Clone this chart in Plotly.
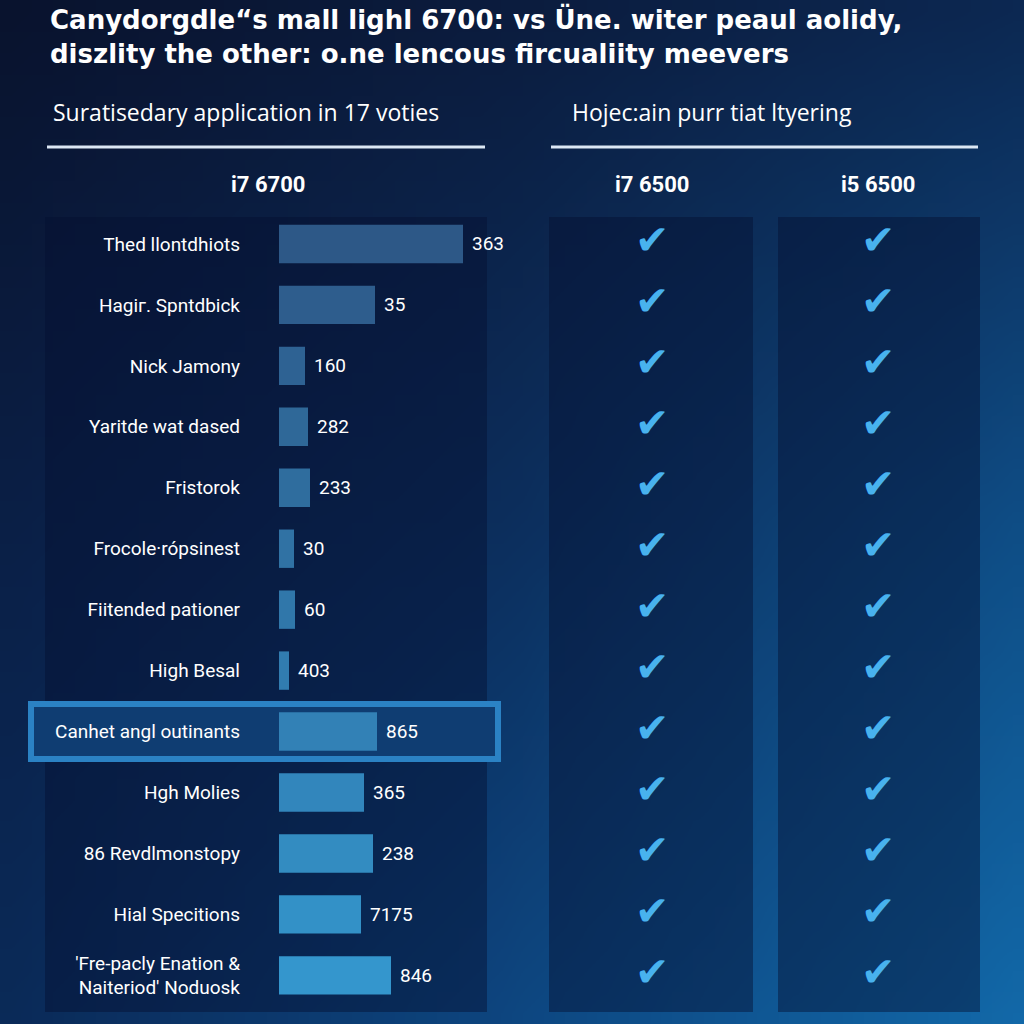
import zlib, struct, base64
import plotly.graph_objects as go

# ---------------- data ----------------
title_lines = [
    "Canydorgdle\u201cs mall lighl 6700: vs Üne. witer peaul aolidy,",
    "diszlity the other: o.ne lencous fircualiity meevers",
]
left_subtitle = "Suratisedary application in 17 voties"
right_subtitle = "Hojec:ain purr tiat ltyering"
bar_header = "i7 6700"
check_headers = ["i7 6500", "i5 6500"]

categories = [
    "Thed llontdhiots",
    "Hagi\u0433. Spntdbick",
    "Nick Jamony",
    "Yaritde wat dased",
    "Fristorok",
    "Frocole\u00b7r\u00f3psinest",
    "Fiitended pationer",
    "High Besal",
    "Canhet angl outinants",
    "Hgh Molies",
    "86 Revdlmonstopy",
    "Hial Specitions",
    "'Fre-pacly Enation &<br>Naiteriod' Noduosk",
]
# bar lengths as drawn (estimated), and the value labels printed beside them
bar_lengths = [184, 96, 26, 29, 31, 15, 16, 10, 98, 85, 94, 82, 112]
value_labels = ["363", "35", "160", "282", "233", "30", "60", "403",
                "865", "365", "238", "7175", "846"]
i7_6500_support = [True] * 13
i5_6500_support = [True] * 13
highlight_row = 8

# ---------------- helpers ----------------
W = H = 1024
def px(x):
    return x / W
def py(y):
    return 1 - y / H

def make_png(w, h, pix):
    raw = b"".join(b"\x00" + bytes(v for p in row for v in p) for row in pix)
    def chunk(t, d):
        return struct.pack(">I", len(d)) + t + d + struct.pack(">I", zlib.crc32(t + d) & 0xffffffff)
    png = (b"\x89PNG\r\n\x1a\n"
           + chunk(b"IHDR", struct.pack(">IIBBBBB", w, h, 8, 2, 0, 0, 0))
           + chunk(b"IDAT", zlib.compress(raw, 9))
           + chunk(b"IEND", b""))
    return "data:image/png;base64," + base64.b64encode(png).decode()

# background gradient control colours (3x3 grid, top row first)
ctrl = [
    [(9, 19, 46), (11, 28, 62), (12, 40, 82)],
    [(10, 31, 70), (12, 46, 92), (14, 76, 132)],
    [(10, 42, 88), (13, 70, 128), (18, 104, 168)],
]
N = 48
pix = []
for j in range(N):
    v = j / (N - 1) * 2
    r0 = min(int(v), 1); fv = v - r0
    row = []
    for i in range(N):
        u = i / (N - 1) * 2
        c0 = min(int(u), 1); fu = u - c0
        col = []
        for k in range(3):
            a = ctrl[r0][c0][k] * (1 - fu) + ctrl[r0][c0 + 1][k] * fu
            b = ctrl[r0 + 1][c0][k] * (1 - fu) + ctrl[r0 + 1][c0 + 1][k] * fu
            col.append(int(round(a * (1 - fv) + b * fv)))
        row.append(tuple(col))
    pix.append(row)
bg_uri = make_png(N, N, pix)

n = len(categories)
c_top, c_bot = (45, 88, 135), (52, 150, 205)
bar_colors = []
for i in range(n):
    t = i / (n - 1)
    bar_colors.append("rgb(%d,%d,%d)" % tuple(round(c_top[k] + (c_bot[k] - c_top[k]) * t) for k in range(3)))

FONT = "Roboto"
HFONT = "Open Sans"
fig = go.Figure()

fig.add_trace(go.Bar(
    x=bar_lengths, y=list(range(n)), orientation="h", width=0.63,
    marker=dict(color=bar_colors, line=dict(width=0)),
    xaxis="x", yaxis="y", hoverinfo="skip", showlegend=False,
))

cx, cy = [], []
for col_idx, support in enumerate([i7_6500_support, i5_6500_support]):
    for r, ok in enumerate(support):
        if ok:
            cx.append(col_idx); cy.append(r)
fig.add_trace(go.Scatter(
    x=cx, y=cy, mode="text", text=["\u2714"] * len(cx),
    textfont=dict(family="DejaVu Sans", size=41, color="#48b2ee"),
    xaxis="x2", yaxis="y", hoverinfo="skip", showlegend=False,
))

shapes = []
# panels
for (x0, x1) in [(45, 487), (549, 753), (778, 980)]:
    shapes.append(dict(type="rect", xref="paper", yref="paper",
                       x0=px(x0), x1=px(x1), y0=py(1012), y1=py(217),
                       fillcolor="rgba(4,16,48,0.45)", line=dict(width=0), layer="below"))
# header rules
for (x0, x1) in [(47, 485), (551, 978)]:
    shapes.append(dict(type="line", xref="paper", yref="paper",
                       x0=px(x0), x1=px(x1), y0=py(147), y1=py(147),
                       line=dict(color="#dce7f4", width=3), layer="below"))
# highlighted row
shapes.append(dict(type="rect", xref="paper", yref="y",
                   x0=px(31), x1=px(498), y0=highlight_row - 0.45, y1=highlight_row + 0.45,
                   fillcolor="#0f3d72", line=dict(color="#2b82c4", width=6), layer="below"))

ann = []
ann.append(dict(text="<b>%s</b><br><b>%s</b>" % tuple(title_lines), xref="paper", yref="paper",
                x=px(48), y=py(1), xanchor="left", yanchor="top", align="left", showarrow=False,
                font=dict(family="DejaVu Sans", size=26, color="white")))
ann.append(dict(text=left_subtitle, xref="paper", yref="paper", x=px(51), y=py(112),
                xanchor="left", yanchor="middle", showarrow=False,
                font=dict(family=HFONT, size=23, color="white")))
ann.append(dict(text=right_subtitle, xref="paper", yref="paper", x=px(570), y=py(112),
                xanchor="left", yanchor="middle", showarrow=False,
                font=dict(family=HFONT, size=23, color="white")))
ann.append(dict(text="<b>%s</b>" % bar_header, xref="paper", yref="paper", x=px(268), y=py(184),
                xanchor="center", yanchor="middle", showarrow=False,
                font=dict(family=FONT, size=22, color="white")))
for i, h in enumerate(check_headers):
    ann.append(dict(text="<b>%s</b>" % h, xref="x2", yref="paper", x=i, y=py(184),
                    xanchor="center", yanchor="middle", showarrow=False,
                    font=dict(family=FONT, size=22, color="white")))
for i, (v, lab) in enumerate(zip(bar_lengths, value_labels)):
    ann.append(dict(text=lab, xref="x", yref="y", x=v, y=i, xanchor="left", yanchor="middle",
                    xshift=7, showarrow=False, font=dict(family=FONT, size=19, color="white")))

fig.update_layout(
    width=W, height=H, autosize=False,
    margin=dict(l=0, r=0, t=0, b=0),
    paper_bgcolor="#0b1e45", plot_bgcolor="rgba(0,0,0,0)",
    images=[dict(source=bg_uri, xref="paper", yref="paper", x=0, y=1, sizex=1, sizey=1,
                 xanchor="left", yanchor="top", sizing="stretch", layer="below")],
    shapes=shapes, annotations=ann,
    xaxis=dict(domain=[px(279), px(487)], range=[0, 208], visible=False, fixedrange=True),
    xaxis2=dict(domain=[px(549), px(980)], range=[-0.456, 1.451], visible=False,
                anchor="y", fixedrange=True),
    yaxis=dict(domain=[py(1005.8), py(213.5)], range=[n - 0.5, -0.5],
               tickvals=list(range(n)), ticktext=categories,
               tickfont=dict(family=FONT, size=19, color="white"),
               ticklabelstandoff=38, showgrid=False, zeroline=False, showline=False,
               ticks="", fixedrange=True),
    showlegend=False,
)

fig.write_html("out.html", config={"displayModeBar": False},
               post_script="document.body.style.margin='0';document.body.style.overflow='hidden';")
